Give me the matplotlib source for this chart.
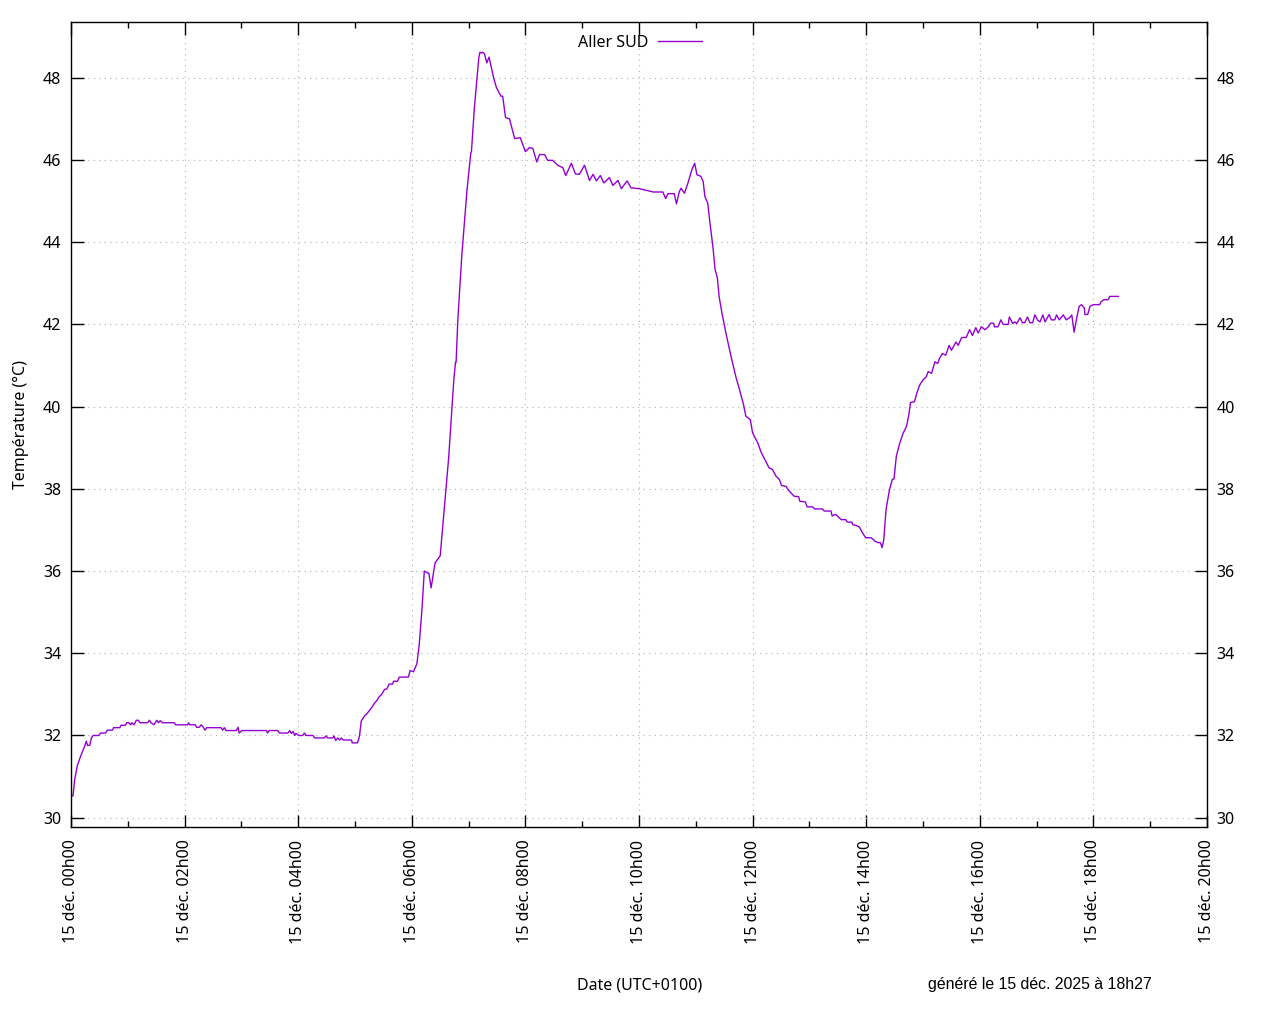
import matplotlib
matplotlib.use("Agg")
import matplotlib.pyplot as plt
import matplotlib.dates as mdates
import matplotlib.ticker as mticker
import pandas as pd

# ---- data: hours after 15 Dec 2025 00h00 and temperature (°C) ----
hours = [
    0.00, 0.035, 0.065, 0.11, 0.17, 0.23, 0.27, 0.29, 0.33, 0.36, 0.39, 0.49, 0.52, 0.61,
    0.64, 0.73, 0.75, 0.86, 0.88, 0.96, 0.98, 1.02, 1.05, 1.07, 1.11, 1.15, 1.19, 1.21,
    1.35, 1.38, 1.41, 1.46, 1.51, 1.54, 1.57, 1.61, 1.82, 1.84, 2.05, 2.07, 2.09, 2.19,
    2.21, 2.26, 2.29, 2.33, 2.36, 2.39, 2.64, 2.67, 2.70, 2.73, 2.91, 2.94, 2.96, 3.01,
    3.44, 3.46, 3.49, 3.64, 3.67, 3.82, 3.85, 3.88, 3.91, 3.94, 3.96, 4.01, 4.08, 4.11,
    4.14, 4.26, 4.29, 4.46, 4.49, 4.52, 4.61, 4.63, 4.66, 4.70, 4.73, 4.76, 4.79, 4.94,
    4.95, 5.04, 5.06, 5.08, 5.11,
    5.17, 5.21, 5.25, 5.30, 5.34, 5.39, 5.43, 5.47, 5.52, 5.56, 5.60, 5.66, 5.68, 5.75,
    5.78, 5.94, 5.97, 6.03, 6.09, 6.13, 6.18,
    6.22, 6.28, 6.30, 6.34, 6.41, 6.50, 6.56, 6.65, 6.74, 6.77, 6.78, 6.81, 6.88, 6.97,
    7.04, 7.05, 7.10, 7.18, 7.20, 7.23, 7.25, 7.28, 7.32, 7.36, 7.44, 7.49, 7.57, 7.60,
    7.65, 7.72, 7.81, 7.91, 8.00, 8.07, 8.13, 8.20, 8.25, 8.34, 8.39, 8.48, 8.57, 8.66,
    8.71, 8.81, 8.88, 8.95, 9.04, 9.13, 9.19, 9.25, 9.32, 9.38, 9.48, 9.54, 9.63, 9.69,
    9.79, 9.86, 10.01, 10.13, 10.25, 10.42, 10.47, 10.51, 10.62, 10.66, 10.71, 10.74,
    10.80, 10.86, 10.93, 10.98, 11.02, 11.09, 11.13, 11.16, 11.21, 11.25, 11.30, 11.34,
    11.38, 11.41, 11.46, 11.53, 11.62, 11.71, 11.77, 11.84, 11.88, 11.96, 12.00, 12.09,
    12.15, 12.23, 12.29, 12.35, 12.41, 12.47, 12.51, 12.59, 12.63, 12.73, 12.81, 12.83,
    12.93, 12.96, 13.06, 13.09, 13.23, 13.26, 13.38, 13.40, 13.46, 13.56, 13.64, 13.67,
    13.75, 13.76, 13.82, 13.88, 13.93, 13.99, 14.09, 14.15, 14.21, 14.25, 14.28, 14.31,
    14.35, 14.41, 14.46, 14.49, 14.53, 14.59, 14.65, 14.71, 14.75, 14.78, 14.85, 14.89,
    14.94, 15.00, 15.06, 15.09, 15.15, 15.21, 15.26, 15.29, 15.34, 15.40, 15.46, 15.50,
    15.58, 15.62, 15.68, 15.76, 15.82, 15.87, 15.93, 15.97, 16.03, 16.09, 16.15, 16.19,
    16.24, 16.26, 16.32, 16.37, 16.41, 16.50, 16.52, 16.58, 16.62, 16.65, 16.71, 16.75,
    16.79, 16.84, 16.88, 16.93, 16.97, 17.02, 17.06, 17.11, 17.15, 17.22, 17.26, 17.32,
    17.35, 17.40, 17.47, 17.52, 17.58, 17.62, 17.66, 17.71, 17.75, 17.79, 17.84, 17.85,
    17.90, 17.94, 18.00, 18.11, 18.13, 18.18, 18.26, 18.29, 18.44,
]
temps = [
    30.53, 30.53, 30.93, 31.26, 31.50, 31.70, 31.86, 31.76, 31.76, 31.94, 32.00, 32.00, 32.06, 32.06,
    32.13, 32.13, 32.19, 32.19, 32.25, 32.25, 32.31, 32.31, 32.26, 32.31, 32.26, 32.37, 32.37, 32.31,
    32.31, 32.37, 32.31, 32.26, 32.37, 32.31, 32.36, 32.31, 32.31, 32.26, 32.26, 32.31, 32.26, 32.26,
    32.20, 32.20, 32.26, 32.20, 32.13, 32.19, 32.19, 32.13, 32.19, 32.12, 32.12, 32.20, 32.06, 32.12,
    32.12, 32.06, 32.12, 32.12, 32.06, 32.06, 32.12, 32.05, 32.10, 32.00, 32.05, 32.00, 32.00, 32.06,
    32.00, 32.00, 31.94, 31.94, 31.99, 31.94, 31.94, 31.99, 31.88, 31.94, 31.89, 31.94, 31.89, 31.89,
    31.82, 31.82, 31.89, 32.00, 32.35,
    32.48, 32.53, 32.60, 32.69, 32.78, 32.86, 32.95, 33.00, 33.12, 33.13, 33.25, 33.25, 33.32, 33.32,
    33.42, 33.42, 33.58, 33.55, 33.75, 34.20, 35.09,
    36.00, 35.95, 35.95, 35.59, 36.20, 36.37, 37.32, 38.77, 40.66, 41.08, 41.08, 42.10, 43.67, 45.24,
    46.18, 46.20, 47.24, 48.49, 48.62, 48.60, 48.62, 48.58, 48.36, 48.50, 48.00, 47.76, 47.55, 47.55,
    47.03, 47.00, 46.52, 46.54, 46.20, 46.30, 46.28, 45.95, 46.13, 46.13, 45.99, 45.99, 45.87, 45.81,
    45.62, 45.92, 45.66, 45.65, 45.87, 45.50, 45.65, 45.49, 45.62, 45.44, 45.57, 45.38, 45.50, 45.30,
    45.49, 45.32, 45.30, 45.26, 45.22, 45.22, 45.06, 45.18, 45.18, 44.93, 45.23, 45.31,
    45.19, 45.43, 45.76, 45.92, 45.64, 45.60, 45.47, 45.11, 44.95, 44.46, 43.90, 43.33,
    43.13, 42.68, 42.28, 41.79, 41.22, 40.70, 40.41, 40.05, 39.77, 39.68, 39.36, 39.12,
    38.89, 38.67, 38.51, 38.47, 38.31, 38.23, 38.08, 38.06, 37.97, 37.82, 37.81, 37.70,
    37.68, 37.56, 37.56, 37.51, 37.51, 37.46, 37.46, 37.34, 37.38, 37.25, 37.25, 37.19,
    37.19, 37.13, 37.11, 37.07, 36.94, 36.81, 36.81, 36.73, 36.69, 36.69, 36.57, 36.77,
    37.50, 37.98, 38.23, 38.24, 38.79, 39.11, 39.35, 39.52, 39.80, 40.10, 40.12, 40.32,
    40.52, 40.65, 40.73, 40.85, 40.81, 41.09, 41.05, 41.17, 41.29, 41.25, 41.49, 41.37,
    41.57, 41.49, 41.68, 41.68, 41.87, 41.73, 41.92, 41.79, 41.94, 41.87, 41.94, 42.03,
    42.03, 41.94, 41.94, 42.11, 42.00, 42.00, 42.18, 42.02, 42.06, 42.02, 42.16, 42.04,
    42.04, 42.18, 42.04, 42.04, 42.23, 42.10, 42.06, 42.23, 42.06, 42.24, 42.11, 42.11,
    42.23, 42.11, 42.23, 42.11, 42.16, 42.23, 41.81, 42.18, 42.44, 42.48, 42.40, 42.24,
    42.24, 42.44, 42.48, 42.48, 42.54, 42.60, 42.60, 42.68, 42.68,
]
series_label = "Aller SUD"
x_label = "Date (UTC+0100)"
y_label = "Température (°C)"
footer = "généré le 15 déc. 2025 à 18h27"
day = "2025-12-15"

times = pd.Timestamp(day) + pd.to_timedelta(hours, unit="h")

plt.rcParams['font.family'] = ['Noto Sans', 'DejaVu Sans']

fig = plt.figure(figsize=(12.8, 10.24), dpi=100)
ax = fig.add_axes([71 / 1280, 1 - 827 / 1024, 1136 / 1280, 805 / 1024])

line_color = "#9400D3"
ax.plot(times, temps, color=line_color, lw=1.0, label=series_label)

ax.set_xlim(pd.Timestamp(day), pd.Timestamp(day) + pd.Timedelta(hours=20))
ax.set_ylim(29.774, 49.355)

ax.xaxis.set_major_locator(mdates.HourLocator(byhour=range(0, 24, 2)))
ax.xaxis.set_minor_locator(mdates.HourLocator(byhour=range(0, 24, 1)))


def fmt(x, pos=None):
    d = mdates.num2date(x)
    return "15 déc. " + d.strftime("%Hh%M")


ax.xaxis.set_major_formatter(mticker.FuncFormatter(fmt))
ax.yaxis.set_major_locator(mticker.MultipleLocator(2))

ax.tick_params(axis="both", which="major", direction="in", length=9, width=1,
               labelsize=11.5, top=True, right=True, labelright=True)
ax.tick_params(axis="x", which="minor", direction="in", length=4.5, width=1, top=True)
ax.tick_params(axis="y", which="major", pad=7)
ax.tick_params(axis="x", which="major", pad=9)
for lab in ax.get_xticklabels():
    lab.set_rotation(90)
    lab.set_va("top")
    lab.set_ha("center")

ax.grid(True, which="major", color="#b0b0b0", linestyle=(0, (1, 4)), lw=0.8)
for s in ax.spines.values():
    s.set_linewidth(1)
    s.set_color("black")

ax.set_ylabel(y_label, fontsize=11.5, labelpad=10)
fig.text(640 / 1280, 1 - 986 / 1024, x_label, ha="center", va="center", fontsize=11.5)
fig.text(928 / 1280, 1 - 985 / 1024, footer, ha="left", va="center", fontsize=11.4,
         family=["Liberation Sans Narrow", "Liberation Sans", "DejaVu Sans"])

ax.legend(loc="upper center", bbox_to_anchor=(0.501, 1.0), frameon=False, markerfirst=False,
          fontsize=11.5, handlelength=2.8, borderaxespad=0.4, handletextpad=0.6)

fig.savefig("out.png", dpi=100)
